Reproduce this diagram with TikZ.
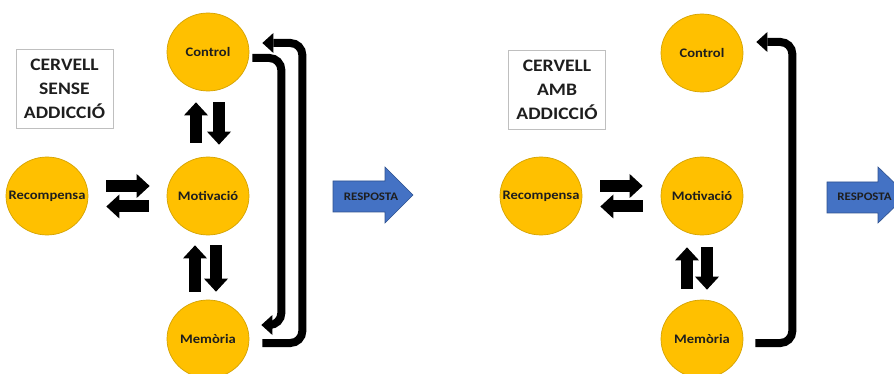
\documentclass[tikz,border=0pt]{standalone}
\usepackage{fontspec}
\setmainfont{Carlito}[FakeStretch=1.12]
\usetikzlibrary{arrows.meta,shapes.geometric}
\definecolor{gold}{HTML}{FFC000}
\definecolor{goldline}{HTML}{D4A200}
\definecolor{respblue}{HTML}{4472C4}
\definecolor{respline}{HTML}{2F528F}
\definecolor{boxgray}{HTML}{BFBFBF}
\definecolor{ink}{HTML}{1E1E1E}
\begin{document}
\begin{tikzpicture}[x=1pt,y=-1pt,
  circ/.style={ellipse, fill=gold, draw=goldline, line width=0.7pt,
    minimum width=82pt, minimum height=78pt, inner xsep=-20pt, inner ysep=0pt, text=ink,
    font=\fontsize{13}{14}\selectfont\bfseries},
  lbl/.style={draw=boxgray, line width=0.8pt, minimum width=97pt,
    minimum height=79pt, align=center, inner sep=0pt, text=ink,
    font=\fontsize{17.5}{24}\selectfont\bfseries},
  blk/.style={line width=12pt, -{Triangle[width=24pt,length=13pt,line width=0pt]}},
  loopline/.style={line width=8pt, rounded corners=12pt,
    -{Triangle[width=20pt,length=11pt,line width=0pt]}},
  respshape/.style={fill=respblue, draw=respline, line width=0.6pt},
  resptext/.style={font=\fontsize{11.5}{12}\selectfont\bfseries, text=ink, inner sep=0pt}]
\useasboundingbox (0,0) rectangle (894,374);

% ---------- left panel ----------
\node[lbl] (lab1) at (64.5,88.5) {CERVELL\\SENSE\\ADDICCIÓ};
\node[circ] (ctl1) at (208,52) {Control};
\node[circ] (mot1) at (208,196) {Motivació};
\node[circ] (mem1) at (208,339) {Memòria};
\node[circ] (rec1) at (47,196) {Recompensa};

\draw[blk, shorten <=18pt, shorten >=17pt] ([shift={(0,-10)}]rec1.east) -- ([shift={(0,-10)}]mot1.west);
\draw[blk, shorten <=18pt, shorten >=18pt] ([shift={(0,10.5)}]mot1.west) -- ([shift={(0,10.5)}]rec1.east);

\draw[blk, shorten <=14pt, shorten >=11pt] ([shift={(-12,0)}]mot1.north) -- ([shift={(-12,0)}]ctl1.south);
\draw[blk, shorten <=11pt, shorten >=12pt] ([shift={(11,0)}]ctl1.south) -- ([shift={(11,0)}]mot1.north);
\draw[blk, shorten <=8pt, shorten >=10pt] ([shift={(-13,0)}]mem1.north) -- ([shift={(-13,0)}]mot1.south);
\draw[blk, shorten <=10pt, shorten >=8pt] ([shift={(8,0)}]mot1.south) -- ([shift={(8,0)}]mem1.north);

\draw[loopline] ([shift={(13,4)}]mem1.east) -- ++(40,0) |- ([shift={(13,-9)}]ctl1.east);
\draw[loopline] ([shift={(3,6)}]ctl1.east) -- ++(29,0) |- ([shift={(12,-14)}]mem1.east);

\path[respshape] (333,181) -- (385,181) -- (385,167) -- (413,195) -- (385,223) -- (385,212) -- (333,212) -- cycle;
\node[resptext] (resp1) at (371,196.5) {RESPOSTA};

% ---------- right panel ----------
\node[lbl] (lab2) at (557,89.5) {CERVELL\\AMB\\ADDICCIÓ};
\node[circ] (ctl2) at (702,53) {Control};
\node[circ] (mot2) at (702,196) {Motivació};
\node[circ] (mem2) at (702,339) {Memòria};
\node[circ] (rec2) at (541,196) {Recompensa};

\draw[blk, shorten <=18pt, shorten >=18pt] ([shift={(0,-10)}]rec2.east) -- ([shift={(0,-10)}]mot2.west);
\draw[blk, shorten <=18pt, shorten >=18pt] ([shift={(0,10.5)}]mot2.west) -- ([shift={(0,10.5)}]rec2.east);

\draw[blk, shorten <=11pt, shorten >=12pt] ([shift={(-15,0)}]mem2.north) -- ([shift={(-15,0)}]mot2.south);
\draw[blk, shorten <=12pt, shorten >=10pt] ([shift={(5,0)}]mot2.south) -- ([shift={(5,0)}]mem2.north);

\draw[loopline] ([shift={(12,4)}]mem2.east) -- ++(37,0) |- ([shift={(13,-11)}]ctl2.east);

\path[respshape] (827,182) -- (878,182) -- (878,167) -- (907,195) -- (878,223) -- (878,213) -- (827,213) -- cycle;
\node[resptext] (resp2) at (864.5,197) {RESPOSTA};
\end{tikzpicture}
\end{document}
